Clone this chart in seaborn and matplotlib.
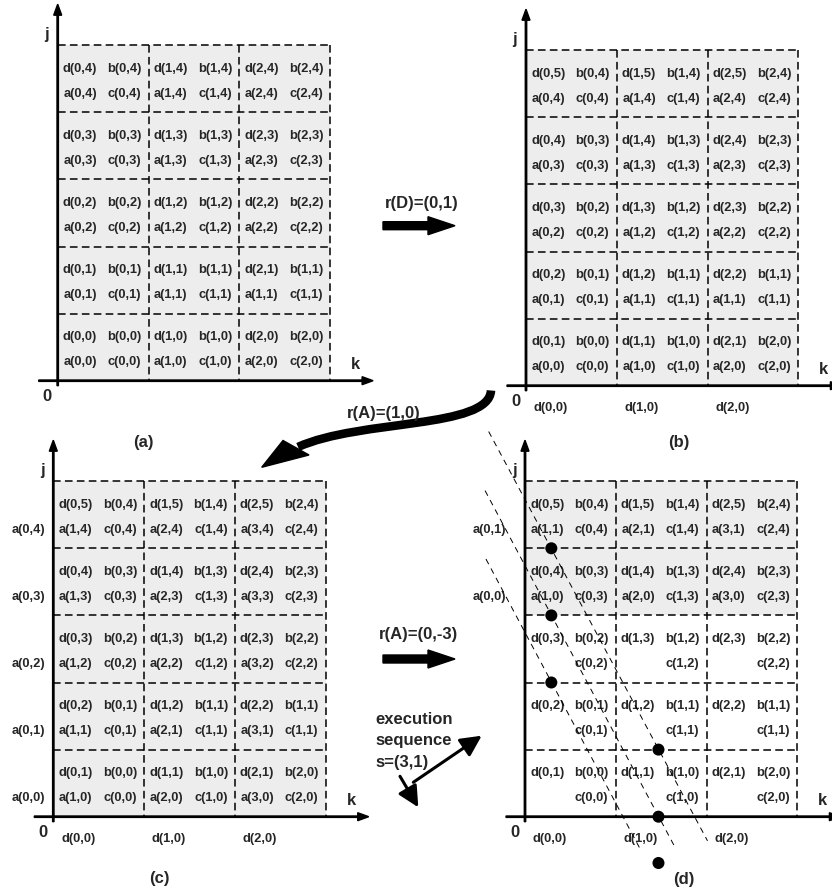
import matplotlib
matplotlib.use("Agg")
import matplotlib.pyplot as plt
import seaborn as sns
from matplotlib.patches import Rectangle, PathPatch, Polygon
from matplotlib.path import Path

# --- Cell labels (rows listed from j=4 at the top down to j=0) ---
# upper line of each cell: "d b | d b | d b", lower line: "a c | a c | a c"
A_TOP = [
    "d(0,4) b(0,4) | d(1,4) b(1,4) | d(2,4) b(2,4)",
    "d(0,3) b(0,3) | d(1,3) b(1,3) | d(2,3) b(2,3)",
    "d(0,2) b(0,2) | d(1,2) b(1,2) | d(2,2) b(2,2)",
    "d(0,1) b(0,1) | d(1,1) b(1,1) | d(2,1) b(1,1)",
    "d(0,0) b(0,0) | d(1,0) b(1,0) | d(2,0) b(2,0)",
]
A_BOT = [
    "a(0,4) c(0,4) | a(1,4) c(1,4) | a(2,4) c(2,4)",
    "a(0,3) c(0,3) | a(1,3) c(1,3) | a(2,3) c(2,3)",
    "a(0,2) c(0,2) | a(1,2) c(1,2) | a(2,2) c(2,2)",
    "a(0,1) c(0,1) | a(1,1) c(1,1) | a(1,1) c(1,1)",
    "a(0,0) c(0,0) | a(1,0) c(1,0) | a(2,0) c(2,0)",
]
B_TOP = [
    "d(0,5) b(0,4) | d(1,5) b(1,4) | d(2,5) b(2,4)",
    "d(0,4) b(0,3) | d(1,4) b(1,3) | d(2,4) b(2,3)",
    "d(0,3) b(0,2) | d(1,3) b(1,2) | d(2,3) b(2,2)",
    "d(0,2) b(0,1) | d(1,2) b(1,1) | d(2,2) b(1,1)",
    "d(0,1) b(0,0) | d(1,1) b(1,0) | d(2,1) b(2,0)",
]
B_BOT = A_BOT
C_TOP = B_TOP
C_BOT = [
    "a(1,4) c(0,4) | a(2,4) c(1,4) | a(3,4) c(2,4)",
    "a(1,3) c(0,3) | a(2,3) c(1,3) | a(3,3) c(2,3)",
    "a(1,2) c(0,2) | a(2,2) c(1,2) | a(3,2) c(2,2)",
    "a(1,1) c(0,1) | a(2,1) c(1,1) | a(3,1) c(1,1)",
    "a(1,0) c(0,0) | a(2,0) c(1,0) | a(3,0) c(2,0)",
]
C_LEFT = ["a(0,4)", "a(0,3)", "a(0,2)", "a(0,1)", "a(0,0)"]
D_TOP = B_TOP
D_BOT = [
    "a(1,1) c(0,4) | a(2,1) c(1,4) | a(3,1) c(2,4)",
    "a(1,0) c(0,3) | a(2,0) c(1,3) | a(3,0) c(2,3)",
    "- c(0,2) | - c(1,2) | - c(2,2)",
    "- c(0,1) | - c(1,1) | - c(1,1)",
    "- c(0,0) | - c(1,0) | - c(2,0)",
]
D_LEFT = ["a(0,1)", "a(0,0)", "", "", ""]
AXIS_D_LABELS = ["d(0,0)", "d(1,0)", "d(2,0)"]

SHADED_A = [4, 3, 2, 1, 0]
SHADED_D = [4, 3]

# execution wavefront in panel (d), grid units (k, j)
DOT_K = [0.29, 0.29, 0.29, 1.47, 1.47, 1.47]
DOT_J = [4.0, 3.0, 2.0, 1.0, 0.0, -0.69]
LINE_K0 = [-0.40, -0.44, -0.43]
LINE_J0 = [5.74, 4.86, 3.84]
LINE_K1 = [2.01, 1.65, 1.26]
LINE_J1 = [-0.36, -0.45, -0.46]

# --- Layout (pixels) ---
CELL_W, CELL_H = 90.8, 67.1
ORIGINS = {"a": (57.7, 381.7), "b": (526, 386.7), "c": (53.3, 817.7), "d": (525, 817.7)}
PANEL_TAGS = {"a": (143, 442), "b": (679, 442), "c": (159, 879), "d": (684, 880)}
CELL_FS = 9.3
BIG_FS = 12

sns.set_theme(style="white")
plt.rcParams["font.family"] = ["Liberation Sans", "DejaVu Sans"]
plt.rcParams["font.weight"] = "bold"

fig = plt.figure(figsize=(8.32, 8.95), dpi=100)
ax = fig.add_axes([0, 0, 1, 1])


def px(name, k, j):
    ox, oy = ORIGINS[name]
    return ox + k * CELL_W, oy - j * CELL_H


def draw_panel(name, top_rows, bot_rows, shaded, left=None, under=None):
    ox, oy = ORIGINS[name]
    right = ox + 3 * CELL_W
    top = oy - 5 * CELL_H
    for j in shaded:
        ax.add_patch(Rectangle((ox, oy - (j + 1) * CELL_H), 3 * CELL_W, CELL_H,
                               facecolor="#ededed", edgecolor="none", zorder=0))
    dash = dict(color="black", lw=1.1, linestyle=(0, (5, 2.8)), zorder=2)
    for r in range(5):
        y = oy - (r + 1) * CELL_H
        ax.plot([ox, right], [y, y], **dash)
    for c in range(1, 4):
        x = ox + c * CELL_W
        ax.plot([x, x], [top, oy], **dash)
    # axes with arrows
    ax.arrow(ox - 19, oy, 3 * CELL_W + 62, 0, width=1.4, head_width=8, head_length=11,
             length_includes_head=True, fc="black", ec="black", zorder=3)
    ax.arrow(ox, oy + 5, 0, -(5 * CELL_H + 46), width=1.4, head_width=8, head_length=11,
             length_includes_head=True, fc="black", ec="black", zorder=3)
    ax.text(ox - 11, top - 12, "j", fontsize=BIG_FS, ha="center", va="center")
    ax.text(ox - 10.5, oy + 15, "0", fontsize=BIG_FS, ha="center", va="center")
    ax.text(right + 25.5, oy - 17, "k", fontsize=BIG_FS, ha="center", va="center")
    for r in range(5):
        row_top = oy - (5 - r) * CELL_H
        for line, off in ((top_rows[r], 0.34), (bot_rows[r], 0.71)):
            for c, cell in enumerate(line.split("|")):
                items = cell.split()
                for t, f in zip(items, (0.245, 0.735)):
                    if t == "-":
                        continue
                    ax.text(ox + (c + f) * CELL_W, row_top + off * CELL_H, t,
                            fontsize=CELL_FS, ha="center", va="center", zorder=4)
    if left is not None:
        lx, = [l for l in [left[1]]]
        for r, t in enumerate(left[0]):
            if t:
                ax.text(ox + lx, oy - (5 - r) * CELL_H + 0.71 * CELL_H, t,
                        fontsize=CELL_FS, ha="center", va="center", zorder=4)
    if under is not None:
        for c, t in enumerate(under):
            ax.text(ox + c * CELL_W + 25, oy + 21, t, fontsize=CELL_FS,
                    ha="center", va="center")
    tx, ty = PANEL_TAGS[name]
    ax.text(tx, ty, f"({name})", fontsize=BIG_FS, ha="center", va="center")


draw_panel("a", A_TOP, A_BOT, SHADED_A)
draw_panel("b", B_TOP, B_BOT, SHADED_A, under=AXIS_D_LABELS)
draw_panel("c", C_TOP, C_BOT, SHADED_A, left=(C_LEFT, -25), under=AXIS_D_LABELS)
draw_panel("d", D_TOP, D_BOT, SHADED_D, left=(D_LEFT, -35.5), under=AXIS_D_LABELS)

# wavefront lines and points in (d)
for k0, j0, k1, j1 in zip(LINE_K0, LINE_J0, LINE_K1, LINE_J1):
    x0, y0 = px("d", k0, j0)
    x1, y1 = px("d", k1, j1)
    ax.plot([x0, x1], [y0, y1], color="black", lw=0.7, linestyle=(0, (6, 5)), zorder=5)
dot_xy = [px("d", k, j) for k, j in zip(DOT_K, DOT_J)]
sns.scatterplot(x=[p[0] for p in dot_xy], y=[p[1] for p in dot_xy], ax=ax,
                color="black", s=75, edgecolor="none", legend=False, zorder=6)

# straight transform arrows
ax.text(421.7, 203.3, "r(D)=(0,1)", fontsize=BIG_FS, ha="center", va="center")
ax.arrow(383, 226.7, 72, 0, width=8, head_width=18, head_length=27,
         length_includes_head=True, fc="black", ec="black")
ax.text(418.3, 635, "r(A)=(0,-3)", fontsize=BIG_FS, ha="center", va="center")
ax.arrow(383, 660, 72, 0, width=8, head_width=18, head_length=27,
         length_includes_head=True, fc="black", ec="black")

# curved transform arrow
ax.text(383.3, 413.3, "r(A)=(1,0)", fontsize=BIG_FS, ha="center", va="center")
curve = Path([(491, 391.5), (489, 430), (360, 420), (298, 448)],
             [Path.MOVETO, Path.CURVE4, Path.CURVE4, Path.CURVE4])
ax.add_patch(PathPatch(curve, facecolor="none", edgecolor="black", lw=6.2,
                       capstyle="butt"))
ax.add_patch(Polygon([(261.7, 468.3), (283, 441.5), (309, 456)], closed=True,
                     facecolor="black", edgecolor="black"))

# execution sequence
for y, t in zip((720, 741, 762), ("execution", "sequence", "s=(3,1)")):
    ax.text(375, y, t, fontsize=BIG_FS, ha="left", va="center")
ax.annotate("", xy=(481.7, 736.7), xytext=(413.3, 783.3),
            arrowprops=dict(arrowstyle="-|>,head_length=0.9,head_width=0.45",
                            lw=2.2, color="black", mutation_scale=14, shrinkA=0, shrinkB=0))
ax.annotate("", xy=(418.3, 808.3), xytext=(400, 777.3),
            arrowprops=dict(arrowstyle="-|>,head_length=0.9,head_width=0.45",
                            lw=2.2, color="black", mutation_scale=14, shrinkA=0, shrinkB=0))

ax.set_xlim(0, 832)
ax.set_ylim(895, 0)
ax.axis("off")
fig.savefig("out.png", dpi=100, facecolor="white")
